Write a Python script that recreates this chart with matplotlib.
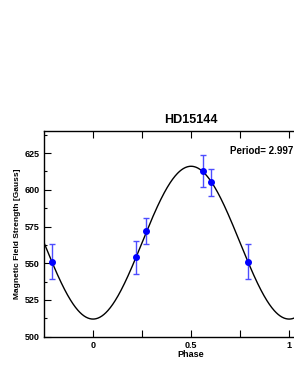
import numpy as np
import matplotlib
matplotlib.use("Agg")
import matplotlib.pyplot as plt
from matplotlib.ticker import MultipleLocator, FixedLocator

plt.rcParams['font.family'] = ['Liberation Sans', 'DejaVu Sans']
plt.rcParams['font.weight'] = 'bold'

# Data
phase = [-0.21, 0.219, 0.270, 0.561, 0.600, 0.79]
field = [551, 554, 572, 613, 605, 551]
err = [12, 11, 9, 11, 9, 12]
fit_mean = 564
fit_amp = 52
title = "HD15144"
period_label = "Period= 2.997"

fig = plt.figure(figsize=(2.94, 3.81), dpi=100)
ax = fig.add_axes([44/294, 44.3/381, 1.15 - 44/294, (250-44.3)/381])

xf = np.linspace(-0.25, 1.25, 600)
ax.plot(xf, fit_mean - fit_amp*np.cos(2*np.pi*xf), color='black', lw=1.0)
ax.errorbar(phase, field, yerr=err, fmt='o', color='blue', ms=4,
            ecolor=(0.3, 0.3, 1.0), elinewidth=1.0, capsize=2.5, capthick=1.0)

ax.set_xlim(-0.25, 1.25)
ax.set_ylim(500, 640)
ax.xaxis.set_major_locator(FixedLocator([0, 0.5, 1.0]))
ax.xaxis.set_minor_locator(FixedLocator([0.25, 0.75]))
ax.set_xticklabels(['0', '0.5', '1'])
ax.yaxis.set_major_locator(MultipleLocator(25))
ax.yaxis.set_minor_locator(MultipleLocator(12.5))
ax.tick_params(which='both', direction='in', top=True, right=False,
               labelsize=6.5, width=0.8, pad=3)
ax.tick_params(which='major', length=5)
ax.tick_params(which='minor', axis='y', length=2.5)
ax.tick_params(which='minor', axis='x', length=5)
for lab in ax.get_xticklabels() + ax.get_yticklabels():
    lab.set_fontweight('bold')
for s in ['left', 'bottom', 'top']:
    ax.spines[s].set_linewidth(1.0)
ax.spines['right'].set_visible(False)

ax.set_xlabel('Phase', fontsize=6.5, fontweight='bold', labelpad=0)
ax.set_ylabel('Magnetic Field Strength [Gauss]', fontsize=6, fontweight='bold', labelpad=3)
ax.set_title(title, fontsize=9, fontweight='bold', pad=6)
ax.text(230/294, (381-150.7)/381, period_label, transform=fig.transFigure, fontsize=7,
        fontweight='bold', va='center', ha='left')

fig.savefig('out.png', dpi=100)
